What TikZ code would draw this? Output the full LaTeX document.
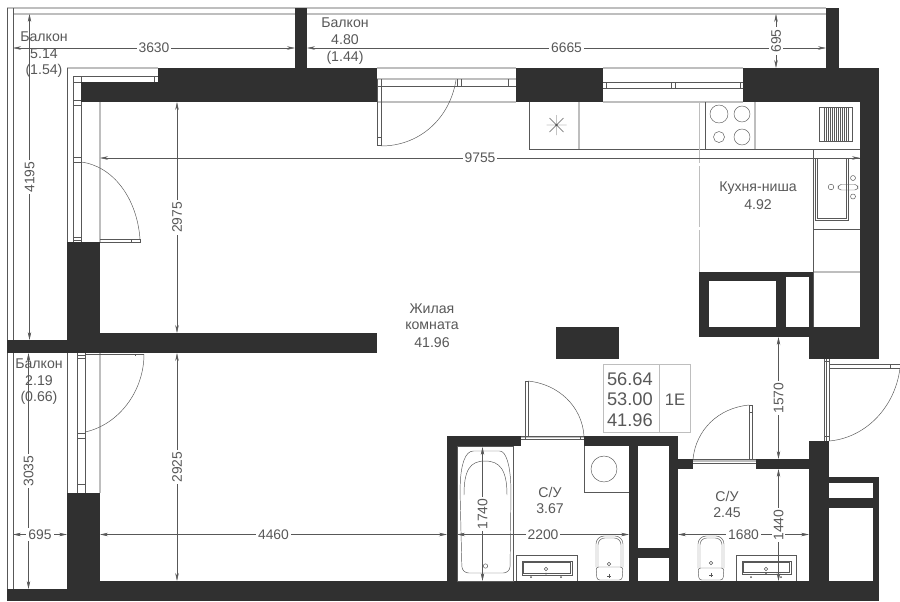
\documentclass[tikz,border=0pt]{standalone}
\usepackage{fontspec}
\setmainfont{Liberation Sans}
\usetikzlibrary{arrows.meta}
\definecolor{wallc}{HTML}{303030}
\definecolor{ink}{HTML}{585858}
\definecolor{pale}{HTML}{BEBEBE}
\newcommand\wl[4]{\fill[wallc] (#1,#2) rectangle (#3,#4);}
\newcommand\hl[4]{\fill[white] (#1,#2) rectangle (#3,#4);}
\tikzset{
  x=0.75pt,y=-0.75pt,
  fine/.style={draw=ink,line width=0.35pt},
  palel/.style={draw=pale,line width=0.8pt},
  dimline/.style={draw=ink,line width=0.35pt,{Stealth[length=6pt,width=2.6pt]}-{Stealth[length=6pt,width=2.6pt]}},
  dimtext/.style={fill=white,inner sep=1.5pt,text=ink,font=\fontsize{10.4}{10.4}\selectfont},
  vdim/.style={dimtext,rotate=90},
  roomtext/.style={text=ink,inner sep=0pt,font=\fontsize{10.6}{10.6}\selectfont},
  tabletext/.style={text=ink,inner sep=0pt,font=\fontsize{13.7}{13.7}\selectfont},
}
\begin{document}
\begin{tikzpicture}
\useasboundingbox (0,0) rectangle (900,601);
\fill[white] (0,0) rectangle (900,601);
% balcony outlines
\draw[palel] (7,8) -- (826,8);
\draw[palel] (13,14) -- (826,14);
\draw[fine] (7,8) -- (7,340) (13,8) -- (13,340);
\draw[fine] (7,353) -- (7,589) (13,353) -- (13,589);
\draw[palel] (67,68) -- (158,68);
\draw[fine] (67,68) -- (67,242);
\draw[fine] (67,353) -- (67,493);
\draw[palel] (100,102) -- (100,242);
\draw[palel] (100,353) -- (100,493);
% upper left window
\draw[fine] (73,76) -- (158,76) (81,82) -- (158,82);
\draw[fine] (73,76) -- (73,242) (81,76) -- (81,242);
\draw[fine] (73,82) -- (81,82) (73,100) -- (81,100) (73,105) -- (81,105);
\draw[fine] (73,157) -- (81,157) (73,162) -- (81,162) (73,237) -- (81,237) (73,240) -- (81,240);
\draw[fine] (154,76) -- (154,82);
% left door upper
\draw[fine] (100,239) -- (140,239) -- (140,242) -- (100,242) (131,239) -- (131,242);
\draw[fine] (81,162) .. controls (113,166) and (137,198) .. (140,239);
% lower left window
\draw[fine] (77,353) -- (77,493) (85,353) -- (85,493);
\draw[fine] (77,355) -- (85,355) (77,358) -- (85,358) (77,433) -- (85,433) (77,438) -- (85,438) (77,484) -- (85,484);
\draw[fine] (85,354) -- (144,354) (135,354) -- (135,356);
\draw[fine] (144,354) .. controls (144,392) and (118,425) .. (85,432);
% top window 1 + door
\draw[palel] (377,68) -- (516,68) (377,79) -- (516,79);
\draw[palel] (377,102) -- (516,102);
\draw[fine] (377,86) -- (516,86);
\draw[fine] (377,79) -- (377,145) (381,79) -- (381,146) (377,137) -- (381,137) (377,145) -- (381,145);
\draw[fine] (457,79) -- (457,86) (461,79) -- (461,86) (508,79) -- (508,86);
\draw[fine] (456,80) .. controls (450,118) and (420,146) .. (381,146);
% top window 2
\draw[palel] (603,68) -- (743,68) (603,102) -- (743,102);
\draw[fine] (603,82) -- (743,82) (603,88) -- (743,88);
\draw[fine] (606,82) -- (606,88) (671,82) -- (671,88) (675,82) -- (675,88) (740,82) -- (740,88);
% walls
\wl{295}{8}{307}{68}
\wl{826}{8}{839}{68}
\wl{158}{68}{377}{82}
\wl{81}{82}{377}{102}
\wl{516}{68}{603}{102}
\wl{743}{68}{879}{102}
\wl{860}{102}{879}{359}
\wl{699}{272}{814}{337}
\wl{814}{327}{860}{337}
\wl{809}{337}{879}{359}
\hl{709}{281}{776}{327}
\hl{786}{277}{809}{327}
\wl{67}{242}{100}{353}
\wl{100}{333}{377}{353}
\wl{7}{340}{67}{353}
\wl{556}{327}{619}{359}
\wl{67}{493}{100}{601}
\wl{7}{589}{67}{601}
\wl{100}{581}{879}{601}
% bathroom walls
\wl{447}{436}{457}{581}
\wl{447}{436}{521}{446}
\wl{584}{436}{678}{446}
\wl{629}{446}{638}{581}
\wl{669}{446}{678}{581}
\wl{638}{548}{669}{558}
\wl{678}{459}{693}{469}
\wl{756}{459}{809}{469}
\wl{809}{441}{829}{581}
\wl{829}{477}{879}{581}
\hl{829}{483}{873}{498}
\hl{829}{508}{873}{581}
% kitchen
\draw[fine] (529,102) -- (529,149) -- (860,149);
\draw[palel] (579,102) -- (579,149);
\draw[fine] (705,102) -- (705,149);
\draw[palel] (755,102) -- (755,149);
\draw[palel,dash pattern=on 46pt off 2pt] (699.5,102) -- (699.5,272);
\draw[fine] (556.5,115) -- (556.5,135) (546.5,125) -- (566.5,125) (549.5,118) -- (563.5,132) (549.5,132) -- (563.5,118);
\fill[ink] (556.5,125) circle (1.2);
\draw[fine] (719,114) circle (9) (742,114) circle (8) (719,137) circle (5.5) (742,137) circle (8);
\draw[fine] (819,107) rectangle (852,141);
\foreach \i in {0,...,12} \draw[draw=ink,line width=0.7pt] (824+2*\i,107) -- (824+2*\i,141);
\draw[fine] (813.5,149) -- (813.5,327);
\draw[palel] (813.5,272) -- (860,272);
\draw[fine] (813.5,229) -- (860,229) (813.5,158) -- (860,158);
\draw[fine] (815,158) -- (815,220) -- (848,220) -- (848,158) (817,158) -- (817,218) -- (846,218) -- (846,158);
\draw[fine] (853,178) circle (2.5) (853,196.5) circle (2.5) (831,187) circle (2.8);
\draw[fine,rounded corners=2.5] (838,184.5) rectangle (858,190);
% bathroom doors
\draw[palel] (521,437.5) -- (584,437.5);
\draw[fine] (521,436) -- (584,436) (521,439) -- (584,439) (525,436) -- (525,439) (580,436) -- (580,439);
\draw[fine] (525,381) -- (525,436) (528,381) -- (528,436) (525,381) -- (528,381);
\draw[fine] (528,381) .. controls (558,384) and (582,406) .. (584,436);
\draw[palel] (693,461) -- (756,461);
\draw[fine] (693,459) -- (756,459) (693,463) -- (756,463);
\draw[fine] (749,405) -- (749,459) (752,405) -- (752,459) (749,405) -- (752,405) (749,412) -- (752,412);
\draw[fine] (749,405) .. controls (718,408) and (696,430) .. (693,459);
% entrance door
\draw[fine] (824,359) -- (824,441) (829,359) -- (829,441) (826.5,359) -- (826.5,441);
\draw[fine] (824,436) -- (829,436) (824,361) -- (829,361);
\draw[fine] (829,364) -- (900,364) (829,368) -- (900,368) (890,364) -- (890,368);
\draw[fine] (900,368) .. controls (895,408) and (865,438) .. (829,441);
% washing machine
\draw[fine] (584,446) -- (584,492) -- (629,492);
\draw[fine] (604,469) circle (13);
% bath
\draw[fine] (457,446) rectangle (513,581);
\draw[fine,rounded corners=5] (462,573) -- (460,490) .. controls (461,465) and (465,451) .. (480,451) -- (493,451) .. controls (506,451) and (510,465) .. (511,490) -- (510,573) -- cycle;
\draw[fine] (464,495) .. controls (464,470) and (470,461) .. (485,461) .. controls (500,461) and (507,470) .. (507,495);
\draw[fine] (485.5,566) circle (2.2);
% sink 1
\draw[fine] (516,581) -- (516,555) -- (577,555) -- (577,581);
\draw[fine] (522,561) rectangle (572,575) (523.5,562.5) rectangle (570.5,573.5);
\draw[fine] (546,569) circle (1.8);
\fill[ink] (531,577) circle (1) (546,573.5) circle (1) (561,577) circle (1);
% toilet 1
\draw[fine,rounded corners=6] (596,567) -- (596,536) -- (623,536) -- (623,567);
\draw[fine,rounded corners=5] (598,567) -- (598,538) -- (621,538) -- (621,567);
\draw[fine,rounded corners=2] (596,567) -- (597,580) -- (622,580) -- (623,567) -- cycle;
\draw[fine] (609,564) circle (1.7);
\draw[ink,line width=0.7pt] (607,576) -- (611,576) (609,574) -- (609,578);
% toilet 2
\draw[fine,rounded corners=6] (698,568) -- (698,536) -- (724,536) -- (724,568);
\draw[fine,rounded corners=5] (700,568) -- (700,538) -- (722,538) -- (722,568);
\draw[fine,rounded corners=2] (698,568) -- (699,580) -- (723,580) -- (724,568) -- cycle;
\draw[fine] (711,563) circle (1.7);
\draw[ink,line width=0.7pt] (709,575) -- (713,575) (711,573) -- (711,577);
% sink 2
\draw[fine] (736,581) -- (736,555) -- (796,555) -- (796,581);
\draw[fine] (742,561) rectangle (791,574) (743.5,562.5) rectangle (789.5,572.5);
\draw[fine] (766,569) circle (1.8);
\fill[ink] (751,577) circle (1) (766,573) circle (1) (781,577) circle (1);
% dimensions
\draw[dimline] (13,48) -- node[dimtext] {3630} (295,48);
\draw[dimline] (307,48) -- node[dimtext] {6665} (826,48);
\draw[dimline] (776,14) -- node[vdim] {695} (776,68);
\draw[dimline] (29.5,14) -- node[vdim] {4195} (29.5,340);
\draw[dimline] (100,158) -- node[dimtext] {9755} (860,158);
\draw[dimline] (177,102) -- node[vdim] {2975} (177,333);
\draw[dimline] (177,353) -- node[vdim] {2925} (177,581);
\draw[dimline] (28.5,353) -- node[vdim] {3035} (28.5,589);
\draw[dimline] (13,534.5) -- node[dimtext] {695} (67,534.5);
\draw[dimline] (100,534.5) -- node[dimtext] {4460} (447,534.5);
\draw[dimline] (457,534.5) -- node[dimtext] {2200} (629,534.5);
\draw[dimline] (482.5,447) -- node[vdim] {1740} (482.5,581);
\draw[dimline] (678,534.5) -- node[dimtext] {1680} (809,534.5);
\draw[dimline] (778.5,469) -- node[vdim] {1440} (778.5,581);
\draw[dimline] (778.5,337) -- node[vdim] {1570} (778.5,459);
% room labels
\node[roomtext] (b1a) at (44,37) {Балкон};
\node[roomtext] (b1b) at (44,53.5) {5.14};
\node[roomtext] (b1c) at (44,71) {(1.54)};
\node[roomtext] (b2a) at (345,23) {Балкон};
\node[roomtext] (b2b) at (345,40) {4.80};
\node[roomtext] (b2c) at (345,57.5) {(1.44)};
\node[roomtext] (b3a) at (39,364) {Балкон};
\node[roomtext] (b3b) at (39,381) {2.19};
\node[roomtext] (b3c) at (39,398) {(0.66)};
\node[roomtext] (k1) at (758,188) {Кухня-ниша};
\node[roomtext] (k2) at (758,204.5) {4.92};
\node[roomtext] (l1) at (432,309) {Жилая};
\node[roomtext] (l2) at (432,326) {комната};
\node[roomtext] (l3) at (432,343) {41.96};
\node[roomtext] (s1) at (550,492) {С/У};
\node[roomtext] (s2) at (550,509) {3.67};
\node[roomtext] (t1) at (727,496) {С/У};
\node[roomtext] (t2) at (727,513) {2.45};
% table
\draw[draw=pale,line width=0.6pt] (603,364) rectangle (690,432) (659.5,364) -- (659.5,432);
\node[tabletext,anchor=east] (a1) at (653,379) {56.64};
\node[tabletext,anchor=east] (a2) at (653,399.5) {53.00};
\node[tabletext,anchor=east] (a3) at (653,420.5) {41.96};
\node[roomtext,font=\fontsize{12.5}{12.5}\selectfont] (a4) at (675,399.5) {1E};
\end{tikzpicture}
\end{document}
